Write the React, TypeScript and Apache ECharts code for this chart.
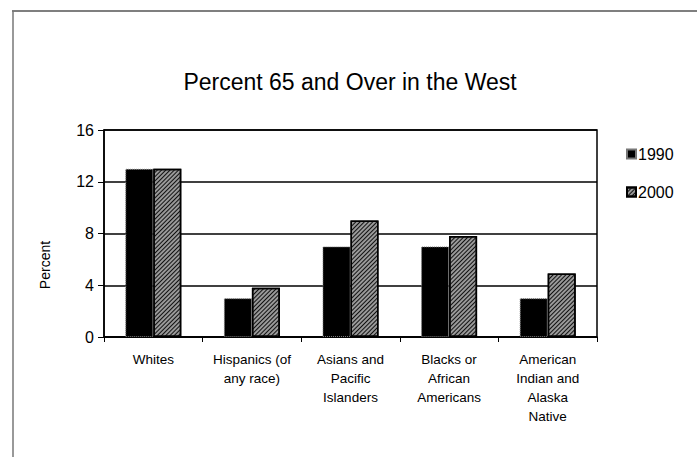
import React, { useEffect, useRef } from "react";
import * as echarts from "echarts";

const categories = [
  "Whites",
  "Hispanics (of\nany race)",
  "Asians and\nPacific\nIslanders",
  "Blacks or\nAfrican\nAmericans",
  "American\nIndian and\nAlaska\nNative",
];
const values1990 = [13, 3, 7, 7, 3];
const values2000 = [13, 3.8, 9, 7.8, 4.9];
const yTicks = [0, 4, 8, 12, 16];

const FONT = "'Liberation Sans', Arial, sans-serif";

export default function App() {
  const ref = useRef<HTMLDivElement>(null);
  useEffect(() => {
    if (!ref.current) return;
    const chart = echarts.init(ref.current, undefined, { renderer: "svg" });
    chart.setOption({
      animation: false,
      backgroundColor: "#fff",
      textStyle: { fontFamily: FONT, color: "#000" },
      title: {
        text: "Percent 65 and Over in the West",
        left: 345,
        textAlign: "center",
        top: 65,
        textStyle: { fontFamily: FONT, fontSize: 23, fontWeight: "normal", color: "#000" },
      },
      legend: {
        orient: "vertical",
        left: 621,
        top: 141,
        icon: "rect",
        itemWidth: 9,
        itemHeight: 9,
        itemGap: 22,
        textStyle: { fontFamily: FONT, fontSize: 16, color: "#000", padding: [0, 0, 0, -3] },
        data: ["1990", "2000"],
      },
      grid: {
        left: 104,
        right: 100,
        top: 130,
        bottom: 120,
        show: true,
        borderColor: "#000",
        borderWidth: 1.5,
        containLabel: false,
      },
      xAxis: {
        type: "category",
        data: categories,
        boundaryGap: true,
        axisLine: { lineStyle: { color: "#000", width: 1.5 } },
        axisTick: { show: true, length: 5, lineStyle: { color: "#000" } },
        axisLabel: {
          interval: 0,
          fontFamily: FONT,
          fontSize: 13.5,
          lineHeight: 19,
          color: "#000",
          margin: 13,
        },
      },
      yAxis: {
        type: "value",
        min: 0,
        max: 16,
        interval: 4,
        axisLine: { show: true, lineStyle: { color: "#000", width: 1.5 } },
        axisTick: { show: true, length: 6, lineStyle: { color: "#000" } },
        axisLabel: {
          fontFamily: FONT,
          fontSize: 16,
          color: "#000",
          margin: 10,
          formatter: (v: number) => (yTicks.includes(v) ? String(v) : ""),
        },
        splitLine: { show: true, lineStyle: { color: "#000", width: 1.5 } },
      },
      graphic: [
        {
          type: "line",
          shape: { x1: 12, y1: 11, x2: 697, y2: 11 },
          style: { stroke: "#555", lineWidth: 1.5 },
        },
        {
          type: "line",
          shape: { x1: 13, y1: 11, x2: 13, y2: 457 },
          style: { stroke: "#777", lineWidth: 1.5 },
        },
        {
          type: "text",
          x: 45,
          y: 265,
          rotation: Math.PI / 2,
          style: {
            text: "Percent",
            fontFamily: FONT,
            fontSize: 14,
            fill: "#000",
            align: "center",
            verticalAlign: "middle",
          },
        },
      ],
      series: [
        {
          name: "1990",
          type: "bar",
          data: values1990,
          barWidth: 28,
          barGap: "0%",
          itemStyle: { color: "#000", borderColor: "#777", borderWidth: 1, borderType: "dotted" },
        },
        {
          name: "2000",
          type: "bar",
          data: values2000,
          barWidth: 28,
          itemStyle: {
            color: "#999",
            borderColor: "#000",
            borderWidth: 1.5,
            decal: {
              symbol: "rect",
              color: "#111",
              dashArrayX: [[1, 0]],
              dashArrayY: [1, 1.5],
              rotation: -Math.PI / 4,
              symbolSize: 1,
            },
          },
        },
      ],
    });
    return () => chart.dispose();
  }, []);
  return <div ref={ref} style={{ width: 697, height: 457, position: "absolute", left: 0, top: 0 }} />;
}
